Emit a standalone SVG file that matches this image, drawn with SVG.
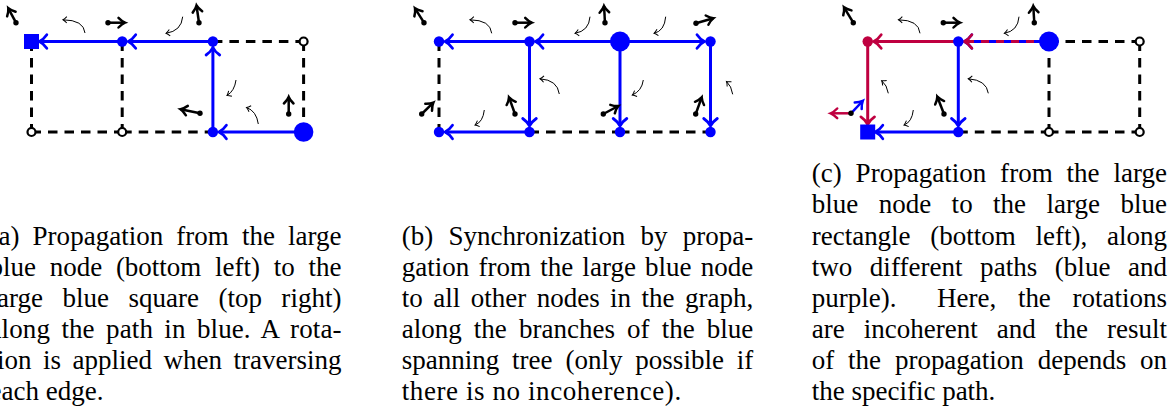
<svg xmlns="http://www.w3.org/2000/svg" width="1176" height="410" viewBox="0 0 1176 410">
<style>
.dash{stroke:#000;stroke-width:3;stroke-dasharray:9.5 7;fill:none}
.be{stroke:#0000ff;stroke-width:3;fill:none;marker-end:url(#ab)}
.pe{stroke:#bf0040;stroke-width:3;fill:none;marker-end:url(#ap)}
.pd{stroke:#bf0040;stroke-width:3;fill:none;stroke-dasharray:8 7;marker-end:url(#ap)}
.vec{stroke:#000;stroke-width:2.5;fill:none;marker-end:url(#av)}
.vecp{stroke:#bf0040;stroke-width:2.5;fill:none;marker-end:url(#avp)}
.vecb{stroke:#0000ff;stroke-width:2.5;fill:none;marker-end:url(#avb)}
.dot{fill:#000}
.rot{stroke:#000;stroke-width:1;fill:none;marker-end:url(#ar)}
.open{fill:#fff;stroke:#000;stroke-width:2.2}
.bn{fill:#0000ff}
.pn{fill:#bf0040}
.cap{font-family:"Liberation Serif","Times New Roman",serif;font-size:27px;fill:#000}
</style>
<defs>
<marker id="ab" markerUnits="userSpaceOnUse" viewBox="-10 -10 20 20" markerWidth="20" markerHeight="20" refX="0" refY="0" orient="auto" overflow="visible"><path d="M-7.5,-6.8 Q-4,-1.8 0,0 Q-4,1.8 -7.5,6.8" fill="none" stroke="#0000ff" stroke-width="2.8" stroke-linecap="round"/></marker>
<marker id="ap" markerUnits="userSpaceOnUse" viewBox="-10 -10 20 20" markerWidth="20" markerHeight="20" refX="0" refY="0" orient="auto" overflow="visible"><path d="M-7.5,-6.8 Q-4,-1.8 0,0 Q-4,1.8 -7.5,6.8" fill="none" stroke="#bf0040" stroke-width="2.8" stroke-linecap="round"/></marker>
<marker id="av" markerUnits="userSpaceOnUse" viewBox="-10 -10 20 20" markerWidth="20" markerHeight="20" refX="0" refY="0" orient="auto" overflow="visible"><path d="M-6.5,-4.8 Q-3,-1.2 0,0 Q-3,1.2 -6.5,4.8" fill="none" stroke="#000" stroke-width="2.5" stroke-linecap="round"/></marker>
<marker id="avp" markerUnits="userSpaceOnUse" viewBox="-10 -10 20 20" markerWidth="20" markerHeight="20" refX="0" refY="0" orient="auto" overflow="visible"><path d="M-6.5,-4.8 Q-3,-1.2 0,0 Q-3,1.2 -6.5,4.8" fill="none" stroke="#bf0040" stroke-width="2.5" stroke-linecap="round"/></marker>
<marker id="avb" markerUnits="userSpaceOnUse" viewBox="-10 -10 20 20" markerWidth="20" markerHeight="20" refX="0" refY="0" orient="auto" overflow="visible"><path d="M-6.5,-4.8 Q-3,-1.2 0,0 Q-3,1.2 -6.5,4.8" fill="none" stroke="#0000ff" stroke-width="2.5" stroke-linecap="round"/></marker>
<marker id="ar" markerUnits="userSpaceOnUse" viewBox="-10 -10 20 20" markerWidth="20" markerHeight="20" refX="0" refY="0" orient="auto" overflow="visible"><path d="M-3.8,-3.2 Q-1.6,-0.8 0,0 Q-1.6,0.8 -3.8,3.2" fill="none" stroke="#000" stroke-width="1"/></marker>
</defs>

<!-- connectors -->
<g id="connectors">
  <g id="a-edges">
    <path class="dash" d="M212.9,41.5 H303.6"/>
    <path class="dash" d="M303.6,41.5 V132"/>
    <path class="dash" d="M31.5,41.5 V132"/>
    <path class="dash" d="M122.2,41.5 V132"/>
    <path class="dash" d="M31.5,132 H122.2"/>
    <path class="dash" d="M122.2,132 H212.9"/>
    <path class="be" d="M303.6,132 H218.9"/>
    <path class="be" d="M212.9,132 V47.5"/>
    <path class="be" d="M212.9,41.5 H128.2"/>
    <path class="be" d="M122.2,41.5 H39.3"/>
  </g>
  <g id="b-edges">
    <path class="dash" d="M439,41.5 V132"/>
    <path class="dash" d="M529.5,132 H620"/>
    <path class="dash" d="M620,132 H710.5"/>
    <path class="be" d="M620,41.5 H535.5"/>
    <path class="be" d="M529.5,41.5 H445"/>
    <path class="be" d="M620,41.5 H704.5"/>
    <path class="be" d="M529.5,41.5 V126"/>
    <path class="be" d="M620,41.5 V126"/>
    <path class="be" d="M710.5,41.5 V126"/>
    <path class="be" d="M529.5,132 H445"/>
  </g>
  <g id="c-edges">
    <path class="dash" d="M1049,41.5 H1139.7"/>
    <path class="dash" d="M1049,41.5 V132"/>
    <path class="dash" d="M1139.7,41.5 V132"/>
    <path class="dash" d="M958.3,132 H1049"/>
    <path class="dash" d="M1049,132 H1139.7"/>
    <path class="be" d="M1049,41.5 H964.3"/>
    <path class="pd" d="M1049,41.5 H964.3"/>
    <path class="pe" d="M958.3,41.5 H873.7"/>
    <path class="pe" d="M867.7,41.5 V124.4"/>
    <path class="be" d="M958.3,41.5 V126"/>
    <path class="be" d="M958.3,132 H875.3"/>
  </g>
</g>

<!-- rotation annotations -->
<g id="rotations">
  <path class="rot" d="M85,33 Q83.8,20 63,19.8"/>
  <path class="rot" d="M182.7,16.7 Q181.5,31 166,33.3"/>
  <path class="rot" d="M236,80 Q234.5,91 227,95.5"/>
  <path class="rot" d="M258.3,124 Q256.5,111 246.5,107.5"/>

  <path class="rot" d="M491.7,33.3 Q490.5,20 470,19.8"/>
  <path class="rot" d="M590,16.7 Q589,31 575,33.3"/>
  <path class="rot" d="M665.7,16.7 Q664.5,31 654,33.3"/>
  <path class="rot" d="M559.3,94 Q557.5,80 540,78.8"/>
  <path class="rot" d="M643.3,80 Q641.8,91 632.3,95"/>
  <path class="rot" d="M732.7,94.3 Q731.5,86 726.5,81.5"/>
  <path class="rot" d="M484.3,110 Q483,122 475,125"/>

  <path class="rot" d="M920,33.3 Q918.8,20 898.5,19.8"/>
  <path class="rot" d="M1019,16.7 Q1018,31 1004.3,33.3"/>
  <path class="rot" d="M888.3,93.3 Q887,85 881.7,80.7"/>
  <path class="rot" d="M988.3,93.3 Q986.5,80 968.3,78.8"/>
  <path class="rot" d="M913.3,110 Q912,122 904,125"/>
</g>

<!-- frame vectors -->
<g id="vectors">
  <path class="vec" d="M16,22.7 L8.3,8.3"/><circle class="dot" cx="16" cy="22.7" r="2.7"/>
  <path class="vec" d="M108,22.7 L125,22.7"/><circle class="dot" cx="108" cy="22.7" r="2.7"/>
  <path class="vec" d="M199,22.7 L196.5,5.5"/><circle class="dot" cx="199" cy="22.7" r="2.7"/>
  <path class="vec" d="M200,113.3 L180.5,109.3"/><circle class="dot" cx="200" cy="113.3" r="2.7"/>
  <path class="vec" d="M288.7,114 L288.7,97"/><circle class="dot" cx="288.7" cy="114" r="2.7"/>

  <path class="vec" d="M424,22.7 L415,8.3"/><circle class="dot" cx="424" cy="22.7" r="2.7"/>
  <path class="vec" d="M515,22.7 L531.7,22.7"/><circle class="dot" cx="515" cy="22.7" r="2.7"/>
  <path class="vec" d="M605,22.7 L604,6"/><circle class="dot" cx="605" cy="22.7" r="2.7"/>
  <path class="vec" d="M696,23.3 L713.3,18.3"/><circle class="dot" cx="696" cy="23.3" r="2.7"/>
  <path class="vec" d="M421.7,114 L433.3,102.7"/><circle class="dot" cx="421.7" cy="114" r="2.7"/>
  <path class="vec" d="M515,114 L509,97.3"/><circle class="dot" cx="515" cy="114" r="2.7"/>
  <path class="vec" d="M603.3,114 L618.3,106"/><circle class="dot" cx="603.3" cy="114" r="2.7"/>
  <path class="vec" d="M695.7,114 L701.7,97.3"/><circle class="dot" cx="695.7" cy="114" r="2.7"/>

  <path class="vec" d="M853.3,22.7 L844,7.3"/><circle class="dot" cx="853.3" cy="22.7" r="2.7"/>
  <path class="vec" d="M943.3,22.7 L960,22.7"/><circle class="dot" cx="943.3" cy="22.7" r="2.7"/>
  <path class="vec" d="M1034.3,22.7 L1033.3,6"/><circle class="dot" cx="1034.3" cy="22.7" r="2.7"/>
  <path class="vecp" d="M851,113.3 L830.7,113.3"/>
  <path class="vecb" d="M851,113.3 L862.7,101"/><circle class="dot" cx="851" cy="113.3" r="2.7"/>
  <path class="vec" d="M944,114 L937.3,96.7"/><circle class="dot" cx="944" cy="114" r="2.7"/>
</g>

<!-- panel (a) nodes -->
<g id="a-n00"><rect class="bn" x="24" y="34" width="15" height="15"/></g>
<g id="a-n10"><circle class="bn" cx="122.2" cy="41.5" r="5.2"/></g>
<g id="a-n20"><circle class="bn" cx="212.9" cy="41.5" r="5.2"/></g>
<g id="a-n30"><circle class="open" cx="303.6" cy="41.5" r="4"/></g>
<g id="a-n01"><circle class="open" cx="31.5" cy="132" r="4"/></g>
<g id="a-n11"><circle class="open" cx="122.2" cy="132" r="4"/></g>
<g id="a-n21"><circle class="bn" cx="212.9" cy="132" r="5.2"/></g>
<g id="a-n31"><circle class="bn" cx="303.6" cy="132" r="9.8"/></g>

<!-- panel (b) nodes -->
<g id="b-n00"><circle class="bn" cx="439" cy="41.5" r="5.2"/></g>
<g id="b-n10"><circle class="bn" cx="529.5" cy="41.5" r="5.2"/></g>
<g id="b-n20"><circle class="bn" cx="620" cy="41.5" r="10"/></g>
<g id="b-n30"><circle class="bn" cx="710.5" cy="41.5" r="5.2"/></g>
<g id="b-n01"><circle class="bn" cx="439" cy="132" r="5.2"/></g>
<g id="b-n11"><circle class="bn" cx="529.5" cy="132" r="5.2"/></g>
<g id="b-n21"><circle class="bn" cx="620" cy="132" r="5.2"/></g>
<g id="b-n31"><circle class="bn" cx="710.5" cy="132" r="5.2"/></g>

<!-- panel (c) nodes -->
<g id="c-n00"><circle class="pn" cx="867.7" cy="41.5" r="5.2"/></g>
<g id="c-n10"><circle class="bn" cx="958.3" cy="41.5" r="5.2"/></g>
<g id="c-n20"><circle class="bn" cx="1049" cy="41.5" r="10"/></g>
<g id="c-n30"><circle class="open" cx="1139.7" cy="41.5" r="4"/></g>
<g id="c-n01"><rect class="bn" x="860.2" y="124.5" width="15" height="15"/></g>
<g id="c-n11"><circle class="bn" cx="958.3" cy="132" r="5.2"/></g>
<g id="c-n21"><circle class="open" cx="1049" cy="132" r="4"/></g>
<g id="c-n31"><circle class="open" cx="1139.7" cy="132" r="4"/></g>

<!-- captions -->
<g id="caption-a" class="cap">
  <text x="-10.5" y="244.5" word-spacing="6.3" textLength="352" lengthAdjust="spacing">(a) Propagation from the large</text>
  <text x="-10.5" y="275.6" word-spacing="7" textLength="352" lengthAdjust="spacing">blue node (bottom left) to the</text>
  <text x="-10.5" y="306.7" word-spacing="12.6" textLength="352" lengthAdjust="spacing">large blue square (top right)</text>
  <text x="-10.5" y="337.8" word-spacing="4.5" textLength="352" lengthAdjust="spacing">along the path in blue. A rota-</text>
  <text x="-10.5" y="368.9" word-spacing="4.7" textLength="352" lengthAdjust="spacing">tion is applied when traversing</text>
  <text x="-10.5" y="400">each edge.</text>
</g>
<g id="caption-b" class="cap">
  <text x="401.7" y="244.5" word-spacing="8.5" textLength="351.6" lengthAdjust="spacing">(b) Synchronization by propa-</text>
  <text x="401.7" y="275.6" word-spacing="2.4" textLength="351.6" lengthAdjust="spacing">gation from the large blue node</text>
  <text x="401.7" y="306.7" word-spacing="3.7" textLength="351.6" lengthAdjust="spacing">to all other nodes in the graph,</text>
  <text x="401.7" y="337.8" word-spacing="5.4" textLength="351.6" lengthAdjust="spacing">along the branches of the blue</text>
  <text x="401.7" y="368.9" word-spacing="6.1" textLength="351.6" lengthAdjust="spacing">spanning tree (only possible if</text>
  <text x="401.7" y="400" textLength="279.5" lengthAdjust="spacing">there is no incoherence).</text>
</g>
<g id="caption-c" class="cap">
  <text x="811.7" y="182.3" word-spacing="7.1" textLength="355.3" lengthAdjust="spacing">(c) Propagation from the large</text>
  <text x="811.7" y="213.4" word-spacing="13.6" textLength="355.3" lengthAdjust="spacing">blue node to the large blue</text>
  <text x="811.7" y="244.5" word-spacing="13" textLength="355.3" lengthAdjust="spacing">rectangle (bottom left), along</text>
  <text x="811.7" y="275.6" word-spacing="10.8" textLength="355.3" lengthAdjust="spacing">two different paths (blue and</text>
  <text x="811.7" y="306.7">purple).</text>
  <text x="937" y="306.7" word-spacing="15" textLength="230" lengthAdjust="spacing">Here, the rotations</text>
  <text x="811.7" y="337.8" word-spacing="12.3" textLength="355.3" lengthAdjust="spacing">are incoherent and the result</text>
  <text x="811.7" y="368.9" word-spacing="7.1" textLength="355.3" lengthAdjust="spacing">of the propagation depends on</text>
  <text x="811.7" y="400">the specific path.</text>
</g>
</svg>
